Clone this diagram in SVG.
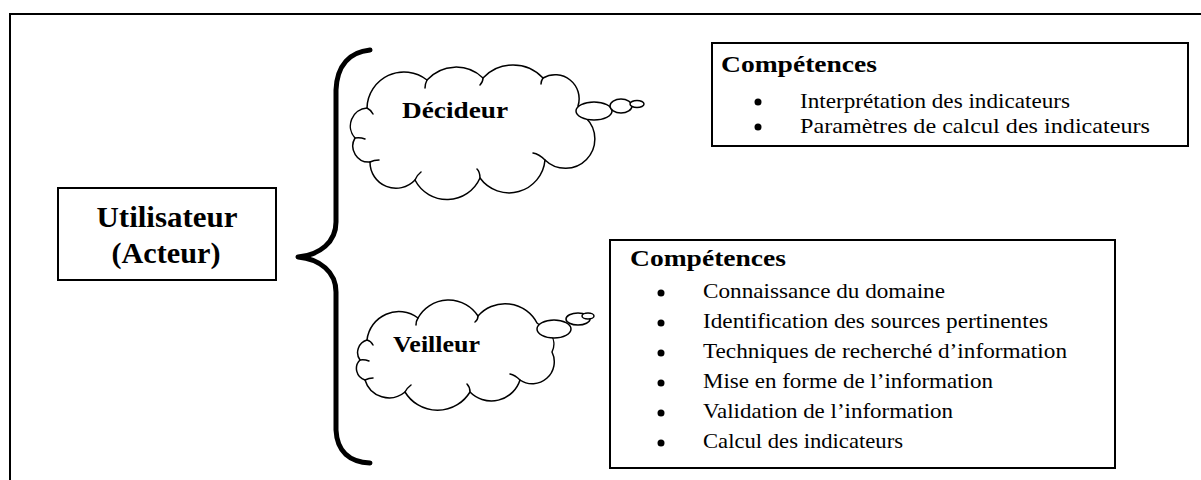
<svg xmlns="http://www.w3.org/2000/svg" width="1201" height="480" viewBox="0 0 1201 480">
<style>
.frame{fill:none;stroke:#000;stroke-width:2}
.box{fill:#fff;stroke:#000;stroke-width:2}
.cloud{fill:#fff;stroke:#000;stroke-width:1.5;stroke-linejoin:round}
.inner{fill:none;stroke:#000;stroke-width:1.5;stroke-linecap:round}
.brace{fill:none;stroke:#000;stroke-width:5;stroke-linecap:round;stroke-linejoin:round}
.t{font-family:"Liberation Serif","Times New Roman",serif;fill:#000}
.b{font-weight:bold}
.item{font-size:21px}
.ttl{font-size:24px;font-weight:bold}
</style>
<rect x="0" y="0" width="1201" height="480" fill="#fff"/>
<path class="frame" d="M10,480 L10,14 L1201,14"/>

<g id="connectors">
<path class="brace" d="M370,50 C350,52 337,65 336,90 L336,222 C336,242 320,255 298,257 C320,259 336,272 336,292 L336,430 C337,452 350,462 370,463"/>
</g>

<g id="utilisateur">
<rect class="box" x="58" y="188" width="218" height="92"/>
<text class="t b" x="167" y="227" font-size="30" text-anchor="middle" textLength="141" lengthAdjust="spacingAndGlyphs">Utilisateur</text>
<text class="t b" x="166" y="263" font-size="30" text-anchor="middle" textLength="109" lengthAdjust="spacingAndGlyphs">(Acteur)</text>
</g>

<g id="decideur">
<path class="cloud" d="M367,108 A37,37 0 0 1 427,80 A39,39 0 0 1 483,78 A41,41 0 0 1 543,78 A24,24 0 0 1 578,106 L586,118 A26,26 0 0 1 545,160 A36,36 0 0 1 480,178 A36,36 0 0 1 415,180 A26,26 0 0 1 370,162 A16,16 0 0 1 355,138 A18,18 0 0 1 367,108 Z"/>
<path class="inner" d="M367,108 q4,2 6,6 M427,80 q-2,4 -2,8 M483,78 q0,4 -3,7 M543,78 q-2,3 -2,6 M545,160 q-6,-6 -12,-7 M480,178 q0,-6 -3,-9 M415,180 q2,-5 6,-8 M370,162 q4,-2 9,-2 M355,138 q5,-1 10,1"/>
<ellipse class="cloud" cx="594" cy="111" rx="18" ry="9"/>
<ellipse class="cloud" cx="621" cy="106" rx="11" ry="7"/>
<ellipse class="cloud" cx="637" cy="104" rx="7" ry="3.5"/>
<text class="t b" x="402" y="118" font-size="24" textLength="106" lengthAdjust="spacingAndGlyphs">Décideur</text>
</g>

<g id="veilleur">
<path class="cloud" d="M367,340 A32,32 0 0 1 418,318 A35,35 0 0 1 478,316 A36,36 0 0 1 537,323 L550,333 A18,18 0 0 1 552,352 A22,22 0 0 1 520,380 A30,30 0 0 1 470,392 A38,38 0 0 1 405,392 A25,25 0 0 1 365,380 A12,12 0 0 1 360,360 A13,13 0 0 1 367,340 Z"/>
<path class="inner" d="M367,340 q4,1 6,5 M418,318 q-2,3 -2,7 M478,316 q0,4 -3,6 M520,380 q-5,-5 -10,-6 M470,392 q0,-5 -3,-8 M405,392 q2,-4 6,-7 M365,380 q4,-2 8,-2 M360,360 q4,-1 9,1"/>
<ellipse class="cloud" cx="554" cy="329" rx="17" ry="9"/>
<ellipse class="cloud" cx="578" cy="319" rx="12" ry="6"/>
<ellipse class="cloud" cx="588" cy="316" rx="6" ry="3"/>
<text class="t b" x="393" y="352" font-size="24" textLength="87" lengthAdjust="spacingAndGlyphs">Veilleur</text>
</g>

<g id="competences-decideur">
<rect class="box" x="712" y="43" width="476" height="103"/>
<text class="t ttl" x="721" y="72" textLength="156" lengthAdjust="spacingAndGlyphs">Compétences</text>
<circle cx="758" cy="102" r="3.5"/>
<circle cx="758" cy="127" r="3.5"/>
<text class="t item" x="800" y="108" textLength="270" lengthAdjust="spacingAndGlyphs">Interprétation des indicateurs</text>
<text class="t item" x="800" y="133" textLength="350" lengthAdjust="spacingAndGlyphs">Paramètres de calcul des indicateurs</text>
</g>

<g id="competences-veilleur">
<rect class="box" x="610" y="240" width="505" height="228"/>
<text class="t ttl" x="630" y="266" textLength="156" lengthAdjust="spacingAndGlyphs">Compétences</text>
<circle cx="661" cy="293" r="3.5"/>
<circle cx="661" cy="323" r="3.5"/>
<circle cx="661" cy="353" r="3.5"/>
<circle cx="661" cy="383" r="3.5"/>
<circle cx="661" cy="413" r="3.5"/>
<circle cx="661" cy="443" r="3.5"/>
<text class="t item" x="703" y="298" textLength="242" lengthAdjust="spacingAndGlyphs">Connaissance du domaine</text>
<text class="t item" x="703" y="328" textLength="345" lengthAdjust="spacingAndGlyphs">Identification des sources pertinentes</text>
<text class="t item" x="703" y="358" textLength="364" lengthAdjust="spacingAndGlyphs">Techniques de recherché d’information</text>
<text class="t item" x="703" y="388" textLength="290" lengthAdjust="spacingAndGlyphs">Mise en forme de l’information</text>
<text class="t item" x="703" y="418" textLength="250" lengthAdjust="spacingAndGlyphs">Validation de l’information</text>
<text class="t item" x="703" y="448" textLength="200" lengthAdjust="spacingAndGlyphs">Calcul des indicateurs</text>
</g>
</svg>
